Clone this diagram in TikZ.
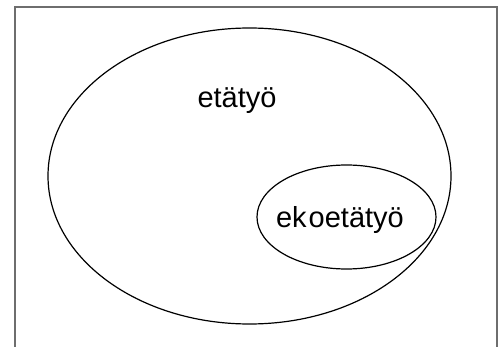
\documentclass[tikz,border=0pt]{standalone}
\usepackage{fontspec}
\setmainfont{Liberation Sans}
\definecolor{framegray}{RGB}{110,110,110}
\begin{document}
\begin{tikzpicture}[x=1pt,y=-1pt]
\useasboundingbox (0,0) rectangle (498,347);
% open frame, no bottom edge
\draw[framegray, line width=2pt] (15,347) -- (15,7) -- (497,7) -- (497,347);

% outer and inner sets
\draw[line width=1.2pt] (249.5,176) ellipse [x radius=201.5, y radius=148];
\draw[line width=1.2pt] (346.5,217) ellipse [x radius=89.5, y radius=52];

% labels
\node[anchor=base, inner sep=0pt, font=\fontsize{29}{34}\selectfont] (outer) at (237,108) {etätyö};
\node[anchor=base, inner sep=0pt, font=\fontsize{29}{34}\selectfont] (inner) at (340,228) {ek\kern2pt oetätyö};
\end{tikzpicture}
\end{document}
